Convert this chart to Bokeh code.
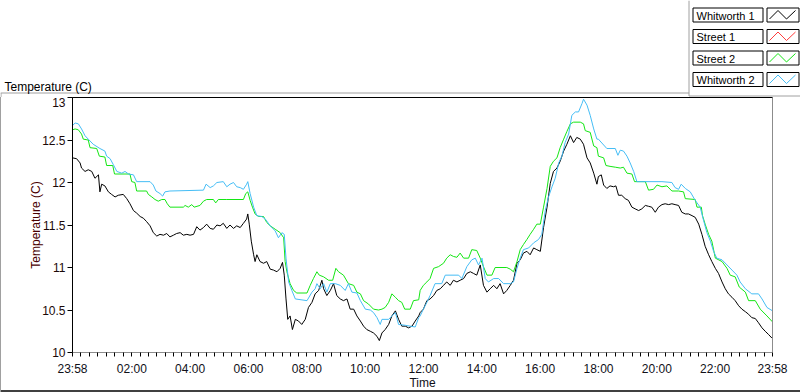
from bokeh.plotting import figure
from bokeh.layouts import column
from bokeh.models import Range1d, FixedTicker, LinearAxis, NumeralTickFormatter
from bokeh.core.properties import value
from bokeh.embed import file_html
from bokeh.resources import INLINE

# ---------------- data (hours after 23:58, temperature in C) ----------------
W1_H = [0.00, 0.14, 0.26, 0.31, 0.43, 0.54, 0.66, 0.77, 0.89, 0.94, 1.00, 1.11, 1.23, 1.34, 1.46, 1.57,
        1.74, 1.86, 1.97, 2.09, 2.20, 2.32, 2.43, 2.54, 2.66, 2.77, 2.89, 3.00, 3.12, 3.23, 3.34, 3.46,
        3.57, 3.69, 3.80, 3.92, 4.03, 4.15, 4.26, 4.37, 4.49, 4.60, 4.72, 4.83, 4.95, 5.06, 5.17, 5.29,
        5.40, 5.52, 5.63, 5.75, 5.86, 5.97, 6.01, 6.06, 6.13, 6.21, 6.26, 6.32, 6.43, 6.55, 6.66, 6.78,
        6.89, 7.01, 7.12, 7.20, 7.26, 7.32, 7.38, 7.46, 7.54, 7.64, 7.75, 7.86, 7.98, 8.09, 8.21, 8.32,
        8.44, 8.55, 8.61, 8.72, 8.84, 8.95, 9.06, 9.18, 9.29, 9.41, 9.52, 9.64, 9.75, 9.87, 9.98, 10.09,
        10.21, 10.32, 10.44, 10.52, 10.61, 10.72, 10.84, 10.95, 11.07, 11.18, 11.29, 11.41, 11.52, 11.64,
        11.75, 11.87, 11.92, 12.03, 12.15, 12.26, 12.38, 12.49, 12.61, 12.72, 12.83, 12.95, 13.06, 13.18,
        13.29, 13.41, 13.52, 13.64, 13.75, 13.86, 13.98, 14.09, 14.21, 14.32, 14.44, 14.55, 14.66, 14.78,
        14.89, 15.01, 15.12, 15.24, 15.35, 15.46, 15.58, 15.69, 15.81, 15.92, 16.04, 16.15, 16.27, 16.38,
        16.49, 16.61, 16.72, 16.84, 16.95, 17.07, 17.18, 17.29, 17.41, 17.52, 17.64, 17.75, 17.87, 17.98,
        18.03, 18.13, 18.21, 18.32, 18.43, 18.55, 18.63, 18.72, 18.83, 18.95, 19.06, 19.18, 19.29, 19.41,
        19.52, 19.64, 19.75, 19.86, 19.98, 20.09, 20.21, 20.32, 20.44, 20.55, 20.66, 20.78, 20.89, 21.01,
        21.12, 21.24, 21.35, 21.47, 21.58, 21.69, 21.81, 21.92, 22.04, 22.15, 22.27, 22.38, 22.49, 22.61,
        22.72, 22.84, 22.95, 23.07, 23.18, 23.29, 23.41, 23.52, 23.64, 23.75, 23.87, 23.98]
W1_T = [12.29, 12.28, 12.23, 12.17, 12.13, 12.15, 12.13, 12.05, 12.09, 11.89, 11.98, 11.96, 11.89, 11.86,
        11.83, 11.85, 11.86, 11.81, 11.75, 11.67, 11.64, 11.60, 11.58, 11.54, 11.49, 11.41, 11.37, 11.39,
        11.38, 11.40, 11.36, 11.38, 11.40, 11.41, 11.38, 11.39, 11.38, 11.39, 11.48, 11.44, 11.47, 11.51,
        11.46, 11.45, 11.50, 11.49, 11.52, 11.46, 11.50, 11.46, 11.49, 11.47, 11.52, 11.57, 11.63, 11.51,
        11.31, 11.15, 11.07, 11.15, 11.07, 11.05, 11.07, 10.98, 10.97, 10.95, 10.99, 11.06, 10.91, 10.63,
        10.39, 10.43, 10.27, 10.39, 10.37, 10.33, 10.39, 10.53, 10.59, 10.69, 10.73, 10.85, 10.75, 10.67,
        10.73, 10.81, 10.67, 10.63, 10.61, 10.63, 10.51, 10.51, 10.43, 10.37, 10.31, 10.27, 10.25, 10.23,
        10.19, 10.14, 10.23, 10.27, 10.33, 10.43, 10.49, 10.39, 10.31, 10.31, 10.29, 10.31, 10.37, 10.43,
        10.47, 10.51, 10.61, 10.63, 10.67, 10.73, 10.75, 10.79, 10.83, 10.79, 10.85, 10.83, 10.85, 10.87,
        10.93, 10.95, 10.93, 10.91, 11.03, 10.79, 10.71, 10.75, 10.79, 10.75, 10.81, 10.69, 10.73, 10.79,
        10.85, 11.05, 11.09, 11.17, 11.19, 11.15, 11.23, 11.21, 11.19, 11.47, 11.71, 11.99, 12.13, 12.17,
        12.25, 12.37, 12.45, 12.55, 12.47, 12.53, 12.51, 12.45, 12.29, 12.23, 12.11, 11.98, 12.07, 12.09,
        11.97, 11.93, 11.96, 11.95, 11.96, 11.85, 11.85, 11.81, 11.79, 11.71, 11.69, 11.67, 11.69, 11.73,
        11.72, 11.71, 11.65, 11.71, 11.74, 11.75, 11.74, 11.75, 11.74, 11.73, 11.65, 11.63, 11.63, 11.61,
        11.59, 11.51, 11.39, 11.25, 11.15, 11.07, 10.99, 10.93, 10.83, 10.75, 10.69, 10.65, 10.61, 10.55,
        10.51, 10.48, 10.45, 10.41, 10.40, 10.35, 10.29, 10.25, 10.21, 10.17]

S2_H = [0.00, 0.09, 0.20, 0.31, 0.37, 0.54, 0.60, 0.83, 0.92, 1.11, 1.17, 1.38, 1.44, 1.97, 2.03, 2.14,
        2.20, 2.54, 2.60, 2.72, 2.83, 2.94, 3.06, 3.17, 3.25, 3.34, 3.80, 3.86, 3.97, 4.09, 4.17, 4.37,
        4.49, 4.60, 4.83, 4.91, 5.00, 5.29, 5.86, 5.94, 6.01, 6.09, 6.17, 6.26, 6.38, 6.55, 6.66, 6.78,
        6.95, 7.12, 7.24, 7.29, 7.35, 7.46, 7.58, 7.69, 8.04, 8.15, 8.26, 8.38, 8.46, 8.61, 8.78, 8.92,
        9.03, 9.12, 9.29, 9.46, 9.64, 9.75, 9.87, 9.98, 10.15, 10.32, 10.49, 10.61, 10.72, 10.84, 10.95,
        11.07, 11.18, 11.29, 11.39, 11.58, 11.69, 11.87, 11.92, 12.03, 12.15, 12.26, 12.38, 12.55, 12.72,
        12.83, 12.95, 13.06, 13.18, 13.29, 13.41, 13.58, 13.69, 13.86, 13.98, 14.09, 14.21, 14.38, 14.49,
        14.89, 15.01, 15.12, 15.24, 15.35, 15.46, 15.58, 15.69, 15.81, 15.92, 16.04, 16.15, 16.27, 16.38,
        16.49, 16.61, 16.72, 16.84, 16.95, 17.07, 17.18, 17.41, 17.52, 17.58, 17.75, 17.87, 17.98, 18.03,
        18.21, 18.29, 18.43, 18.61, 18.78, 18.89, 19.01, 19.18, 19.27, 19.64, 19.75, 19.92, 20.04, 20.21,
        20.38, 20.55, 20.78, 20.95, 21.01, 21.35, 21.41, 21.56, 21.60, 21.69, 21.81, 21.92, 22.04, 22.27,
        22.44, 22.55, 22.72, 22.86, 23.07, 23.18, 23.41, 23.58, 23.81, 24.00]
S2_T = [12.62, 12.63, 12.62, 12.57, 12.51, 12.50, 12.41, 12.40, 12.31, 12.30, 12.20, 12.20, 12.10, 12.10,
        12.01, 12.00, 11.90, 11.90, 11.86, 11.83, 11.80, 11.78, 11.80, 11.80, 11.75, 11.71, 11.71, 11.73,
        11.71, 11.74, 11.71, 11.73, 11.78, 11.80, 11.80, 11.76, 11.80, 11.80, 11.80, 11.87, 11.89, 11.79,
        11.71, 11.63, 11.60, 11.60, 11.53, 11.49, 11.45, 11.41, 11.35, 11.07, 10.95, 10.81, 10.73, 10.70,
        10.70, 10.79, 10.87, 10.95, 10.91, 10.89, 10.85, 10.85, 10.99, 10.95, 10.91, 10.81, 10.79, 10.71,
        10.69, 10.61, 10.57, 10.51, 10.50, 10.51, 10.53, 10.59, 10.69, 10.65, 10.61, 10.59, 10.51, 10.51,
        10.61, 10.62, 10.73, 10.79, 10.83, 10.87, 10.99, 11.01, 11.05, 11.11, 11.15, 11.13, 11.12, 11.17,
        11.11, 11.11, 11.21, 11.20, 11.11, 11.01, 10.91, 10.91, 11.00, 11.00, 10.98, 10.95, 11.07, 11.21,
        11.27, 11.33, 11.39, 11.45, 11.51, 11.51, 11.71, 11.93, 12.19, 12.25, 12.29, 12.41, 12.51, 12.60,
        12.69, 12.71, 12.71, 12.69, 12.61, 12.59, 12.43, 12.41, 12.31, 12.29, 12.20, 12.19, 12.18, 12.17,
        12.18, 12.11, 12.10, 12.01, 12.01, 11.91, 11.92, 11.97, 11.95, 11.96, 11.90, 11.90, 11.89, 11.81,
        11.80, 11.71, 11.71, 11.61, 11.51, 11.39, 11.31, 11.11, 11.07, 10.99, 10.91, 10.89, 10.77, 10.71,
        10.61, 10.61, 10.51, 10.43, 10.36]

W2_H = [0.00, 0.09, 0.20, 0.31, 0.43, 0.54, 0.71, 0.94, 1.11, 1.17, 1.29, 1.40, 1.52, 1.69, 1.80, 1.92,
        2.09, 2.20, 2.66, 2.77, 2.86, 3.00, 3.09, 3.17, 3.34, 4.49, 4.58, 4.72, 4.83, 4.95, 5.17, 5.29,
        5.40, 5.52, 5.63, 5.75, 5.86, 5.97, 6.01, 6.09, 6.21, 6.32, 6.49, 6.61, 6.78, 6.95, 7.06, 7.18,
        7.26, 7.32, 7.41, 7.52, 7.64, 8.04, 8.21, 8.32, 8.38, 8.49, 8.61, 8.72, 8.84, 9.01, 9.18, 9.35,
        9.46, 9.58, 9.75, 9.87, 10.04, 10.21, 10.32, 10.44, 10.55, 10.61, 10.84, 10.95, 11.07, 11.18,
        11.41, 11.75, 11.87, 11.92, 12.03, 12.15, 12.26, 12.43, 12.66, 12.78, 13.24, 13.35, 13.52, 13.69,
        13.81, 13.92, 14.04, 14.15, 14.26, 14.44, 14.61, 14.78, 15.01, 15.12, 15.24, 15.35, 15.46, 15.64,
        15.81, 15.98, 16.09, 16.21, 16.32, 16.44, 16.55, 16.67, 16.78, 16.89, 17.01, 17.12, 17.24, 17.35,
        17.47, 17.52, 17.64, 17.75, 17.87, 17.98, 18.03, 18.32, 18.61, 18.70, 18.78, 18.89, 19.01, 19.12,
        19.24, 19.35, 20.21, 20.55, 20.66, 20.78, 20.87, 21.01, 21.18, 21.35, 21.52, 21.64, 21.75, 21.87,
        21.98, 22.09, 22.27, 22.44, 22.61, 22.78, 22.89, 23.07, 23.29, 23.52, 23.64, 23.81, 24.00]
W2_T = [12.67, 12.70, 12.69, 12.63, 12.55, 12.51, 12.45, 12.40, 12.37, 12.31, 12.28, 12.21, 12.13, 12.11,
        12.13, 12.10, 12.09, 12.01, 12.01, 11.97, 11.90, 11.87, 11.84, 11.89, 11.90, 11.91, 11.98, 11.94,
        11.96, 12.00, 12.01, 11.95, 11.98, 12.00, 11.95, 11.94, 11.92, 11.98, 12.01, 11.87, 11.71, 11.61,
        11.60, 11.57, 11.49, 11.43, 11.35, 11.41, 11.39, 11.11, 10.83, 10.73, 10.63, 10.61, 10.71, 10.75,
        10.81, 10.75, 10.81, 10.71, 10.81, 10.81, 10.79, 10.73, 10.81, 10.71, 10.70, 10.61, 10.51, 10.50,
        10.47, 10.41, 10.33, 10.39, 10.39, 10.43, 10.47, 10.33, 10.32, 10.30, 10.41, 10.43, 10.51, 10.59,
        10.67, 10.81, 10.81, 10.91, 10.91, 10.87, 11.01, 11.09, 11.11, 11.03, 11.11, 10.87, 10.83, 10.87,
        10.87, 10.81, 10.81, 10.83, 10.99, 11.11, 11.21, 11.23, 11.29, 11.33, 11.39, 11.67, 11.83, 11.95,
        12.05, 12.23, 12.31, 12.47, 12.57, 12.79, 12.83, 12.83, 12.93, 12.98, 12.91, 12.79, 12.63, 12.51,
        12.51, 12.40, 12.40, 12.32, 12.38, 12.37, 12.31, 12.23, 12.13, 12.01, 12.01, 12.00, 11.94, 11.92,
        11.98, 11.93, 11.89, 11.79, 11.71, 11.55, 11.41, 11.31, 11.19, 11.11, 11.09, 11.03, 10.97, 10.91,
        10.83, 10.75, 10.69, 10.69, 10.63, 10.53, 10.49]

SERIES = ["Whitworth 1", "Street 1", "Street 2", "Whitworth 2"]
COLORS = ["#000000", "#ff3c3c", "#14e614", "#45bdf5"]

X_TICKS = [0, 122, 242, 362, 482, 602, 722, 842, 962, 1082, 1202, 1322, 1440]   # minutes after 23:58
X_LABELS = ["23:58", "02:00", "04:00", "06:00", "08:00", "10:00", "12:00", "14:00",
            "16:00", "18:00", "20:00", "22:00", "23:58"]
Y_TICKS = [10, 10.5, 11, 11.5, 12, 12.5, 13]
TITLE = "Temperature (C)"
X_TITLE = "Time"

FONT = "Liberation Sans"
GRAY = "#a0a0a0"

# ================= header strip: chart title + plot legend =================
TOP_H = 97
hdr = figure(width=800, height=TOP_H, output_backend="svg", toolbar_location=None,
             title_location=None,
             x_range=Range1d(0, 800), y_range=Range1d(TOP_H, 0),
             x_axis_type=None, y_axis_type=None, min_border=0,
             outline_line_color=None, background_fill_color="white",
             border_fill_color="white")
hdr.frame_align = False
hdr.grid.visible = False

# title bar line, left edge of the panel and legend panel frame
hdr.segment(x0=[0, 688.5, 688.5, 0.5], y0=[92.5, 0, 95.5, 92.5],
            x1=[688.5, 688.5, 800, 0.5], y1=[92.5, 95.5, 95.5, TOP_H],
            line_color=GRAY, line_width=1)

hdr.text(x=[4], y=[86.5], text=[TITLE], text_font=value(FONT), text_font_size=value("12px"),
         text_color="black", text_align=value("left"), text_baseline=value("alphabetic"))

row_tops = [7.5, 29.0, 50.5, 72.0]
hdr.quad(left=[692.5] * 4, right=[762.5] * 4, top=row_tops, bottom=[t + 14 for t in row_tops],
         fill_color="white", line_color="black", line_width=1)
hdr.quad(left=[766.5] * 4, right=[798.5] * 4, top=row_tops, bottom=[t + 14 for t in row_tops],
         fill_color="white", line_color="black", line_width=1)
hdr.text(x=[696] * 4, y=[t + 7.5 for t in row_tops], text=SERIES, text_font=value(FONT),
         text_font_size=value("11px"), text_color="black",
         text_align=value("left"), text_baseline=value("middle"))
zx = [[769, 777.5, 786, 795]] * 4
zy = [[t + 11, t + 2.5, t + 11, t + 2.5] for t in row_tops]
hdr.multi_line(xs=zx, ys=zy, line_color=COLORS, line_width=1)

# ================= main chart =================
p = figure(width=800, height=392 - TOP_H, output_backend="svg", toolbar_location=None,
           title_location=None,
           x_range=Range1d(0, 1440), y_range=Range1d(10, 13),
           min_border_left=72, min_border_right=28, min_border_top=0, min_border_bottom=40,
           background_fill_color="white", border_fill_color="white", border_fill_alpha=0,
           outline_line_color="black")
p.frame_align = False
p.grid.visible = False
p.styles = {"box-shadow": "inset 1px 0 0 #a0a0a0, inset 0 -2px 0 #404040"}

all_ticks = []
for a, b in zip(X_TICKS[:-1], X_TICKS[1:]):
    all_ticks += [round(a + (b - a) * k / 7) for k in range(0, 7)]
all_ticks.append(X_TICKS[-1])
overrides = {t: "" for t in all_ticks}
overrides.update({t: l for t, l in zip(X_TICKS, X_LABELS)})

xa = p.xaxis[0]
xa.ticker = FixedTicker(ticks=all_ticks)
xa.major_label_overrides = overrides
xa.axis_line_color = "#8c8c8c"
xa.major_tick_line_color = "black"
xa.major_tick_out = 4
xa.major_tick_in = 0
xa.minor_tick_line_color = None
xa.major_label_standoff = 5
xa.major_label_text_font = FONT
xa.major_label_text_font_size = "12px"
xa.major_label_text_color = "#101018"
xa.axis_label = X_TITLE
xa.axis_label_text_font = FONT
xa.axis_label_text_font_size = "12px"
xa.axis_label_text_font_style = "normal"
xa.axis_label_text_color = "#101018"
xa.axis_label_standoff = -3

ya = p.yaxis[0]
ya.ticker = FixedTicker(ticks=Y_TICKS)
ya.formatter = NumeralTickFormatter(format="0.[0]")
ya.axis_line_color = "black"
ya.major_tick_line_color = "black"
ya.major_tick_out = 5
ya.major_tick_in = 0
ya.minor_tick_line_color = None
ya.major_label_standoff = 2
ya.major_label_text_font = FONT
ya.major_label_text_font_size = "12px"
ya.major_label_text_color = "#1a0808"
ya.axis_label = TITLE
ya.axis_label_text_font = FONT
ya.axis_label_text_font_size = "12px"
ya.axis_label_text_font_style = "normal"
ya.axis_label_text_color = "#4a0000"
ya.axis_label_standoff = -4

right = LinearAxis(ticker=FixedTicker(ticks=[]), axis_line_color="#8c8c8c",
                   major_tick_line_color=None, minor_tick_line_color=None,
                   major_label_text_font_size="0px")
p.add_layout(right, "right")

p.line([h * 60 for h in W1_H], W1_T, line_color=COLORS[0], line_width=1)
p.line([h * 60 for h in S2_H], S2_T, line_color=COLORS[2], line_width=1)
p.line([h * 60 for h in W2_H], W2_T, line_color=COLORS[3], line_width=1)

layout = column(hdr, p, spacing=0)
open("out.html", "w").write(file_html(layout, INLINE))
